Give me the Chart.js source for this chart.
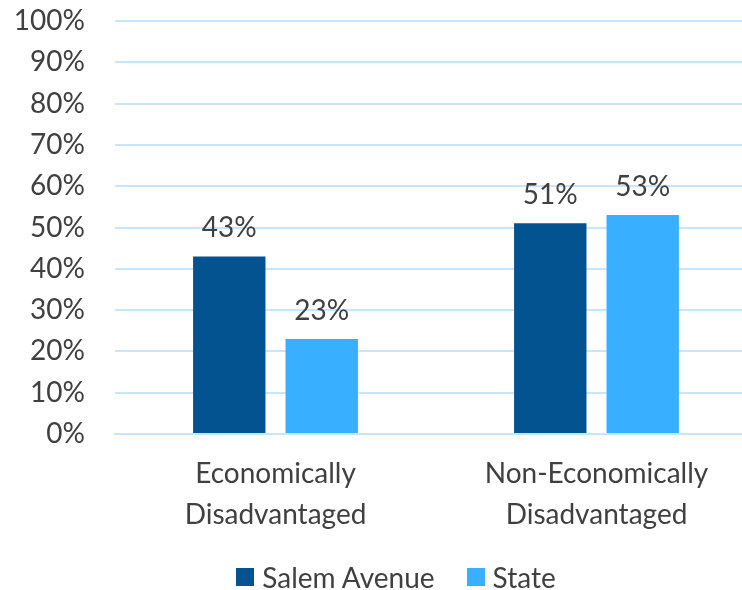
<!DOCTYPE html>
<html>
<head>
<meta charset="utf-8">
<script src="https://cdn.jsdelivr.net/npm/chart.js@4/dist/chart.umd.min.js"></script>
<style>
  html, body { margin: 0; padding: 0; background: #fff; overflow: hidden; }
  #wrap { position: relative; width: 757px; height: 590px; }
  #legend {
    position: absolute; left: 0; width: 792px; top: 560px;
    display: flex; justify-content: center; align-items: center;
    font-family: Lato, sans-serif; font-size: 28px; color: #404040;
  }
  #legend span.box { display: inline-block; width: 18px; height: 18px; margin-right: 8px; }
  #legend span.item { display: inline-flex; align-items: center; margin: 0 16px; }
</style>
</head>
<body>
<div id="wrap">
  <canvas id="chart" width="757" height="590"></canvas>
  <div id="legend"></div>
</div>
<script>
  const categories = [['Economically', 'Disadvantaged'], ['Non-Economically', 'Disadvantaged']];
  const seriesNames = ['Salem Avenue', 'State'];
  const salemValues = [43, 51];
  const stateValues = [23, 53];
  const colors = ['#02538F', '#38B0FF'];

  const textColor = '#404040';
  const fontFamily = 'Lato, sans-serif';

  // labels above each bar
  const valueLabels = {
    id: 'valueLabels',
    afterDatasetsDraw(chart) {
      const ctx = chart.ctx;
      ctx.save();
      ctx.fillStyle = textColor;
      ctx.font = '28px ' + fontFamily;
      ctx.textAlign = 'center';
      ctx.textBaseline = 'bottom';
      chart.data.datasets.forEach((ds, i) => {
        chart.getDatasetMeta(i).data.forEach((bar, j) => {
          ctx.fillText(ds.data[j] + '%', bar.x, bar.y - 14);
        });
      });
      ctx.restore();
    }
  };

  const ctx = document.getElementById('chart').getContext('2d');
  new Chart(ctx, {
    type: 'bar',
    data: {
      labels: categories,
      datasets: [
        { label: seriesNames[0], data: salemValues, backgroundColor: colors[0] },
        { label: seriesNames[1], data: stateValues, backgroundColor: colors[1] }
      ]
    },
    options: {
      responsive: false,
      animation: false,
      layout: { padding: { top: 21, right: 0, left: 0, bottom: 0 } },
      datasets: {
        bar: { barPercentage: 0.783, categoryPercentage: 0.576 }
      },
      scales: {
        y: {
          min: 0,
          max: 100,
          ticks: {
            stepSize: 10,
            padding: 30,
            color: textColor,
            font: { family: fontFamily, size: 28 },
            callback: (v) => v + '%'
          },
          grid: { color: '#C9E5F8', lineWidth: 2, drawTicks: false },
          border: { display: false },
          afterFit: (scale) => {
            scale.width = 115;
            scale.paddingTop = 0;
            scale.paddingBottom = 0;
          }
        },
        x: {
          ticks: {
            color: textColor,
            font: { family: fontFamily, size: 28, lineHeight: 1.45 },
            padding: 20,
            maxRotation: 0
          },
          grid: { display: false, drawTicks: false },
          border: { display: true, color: '#C9E5F8', width: 2 },
          afterFit: (scale) => { scale.height = 156; }
        }
      },
      plugins: {
        legend: { display: false },
        tooltip: { enabled: false }
      }
    },
    plugins: [valueLabels]
  });

  // simple html legend
  const legend = document.getElementById('legend');
  seriesNames.forEach((name, i) => {
    const item = document.createElement('span');
    item.className = 'item';
    item.innerHTML = '<span class="box" style="background:' + colors[i] + '"></span>' + name;
    legend.appendChild(item);
  });
</script>
</body>
</html>
